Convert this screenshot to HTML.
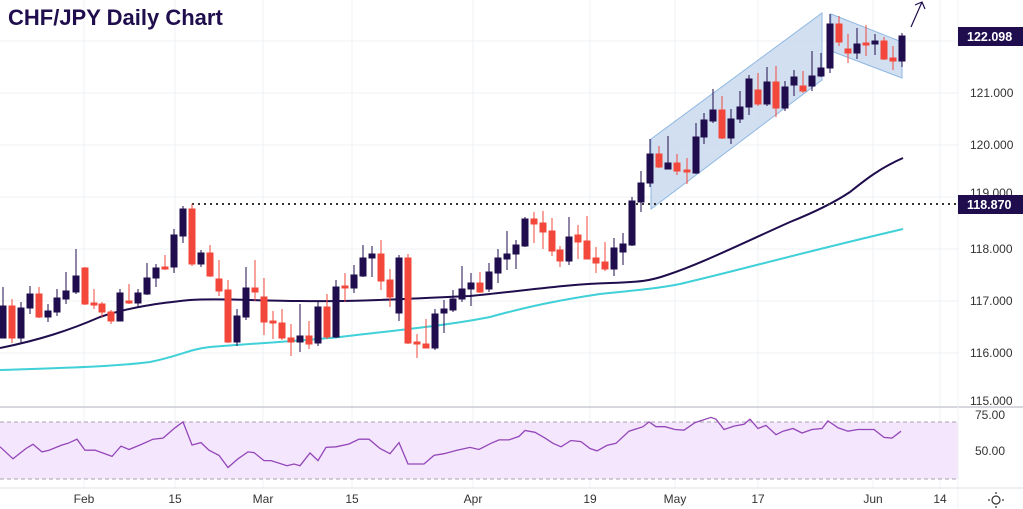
<!DOCTYPE html>
<html><head><meta charset="utf-8"><style>
html,body{margin:0;padding:0;background:#fff;}
svg{display:block;}
text{font-family:"Liberation Sans",sans-serif;}
</style></head><body>
<svg width="1023" height="509" viewBox="0 0 1023 509" xmlns="http://www.w3.org/2000/svg">
<rect width="1023" height="509" fill="#fff"/>
<g stroke="#eef0f5" stroke-width="1">
<line x1="84" y1="0" x2="84" y2="488"/><line x1="175" y1="0" x2="175" y2="488"/><line x1="263" y1="0" x2="263" y2="488"/><line x1="352" y1="0" x2="352" y2="488"/><line x1="473" y1="0" x2="473" y2="488"/><line x1="590" y1="0" x2="590" y2="488"/><line x1="675" y1="0" x2="675" y2="488"/><line x1="758" y1="0" x2="758" y2="488"/><line x1="873" y1="0" x2="873" y2="488"/><line x1="940" y1="0" x2="940" y2="488"/>
<line x1="0" y1="41" x2="958" y2="41"/><line x1="0" y1="93" x2="958" y2="93"/><line x1="0" y1="145" x2="958" y2="145"/><line x1="0" y1="197" x2="958" y2="197"/><line x1="0" y1="249" x2="958" y2="249"/><line x1="0" y1="301" x2="958" y2="301"/><line x1="0" y1="353" x2="958" y2="353"/>
</g>
<rect x="0" y="422" width="958" height="57" fill="#f3e6fd"/>
<line x1="0" y1="422" x2="958" y2="422" stroke="#a8a0b0" stroke-dasharray="4,3"/>
<line x1="0" y1="479" x2="958" y2="479" stroke="#a8a0b0" stroke-dasharray="4,3"/>
<line x1="0" y1="407" x2="1023" y2="407" stroke="#c8cbd3" stroke-width="1.5"/>
<line x1="0" y1="488" x2="1023" y2="488" stroke="#dfe2e8"/>
<line x1="958" y1="0" x2="958" y2="509" stroke="#eef0f5"/>
<polyline fill="none" stroke="#9446b8" stroke-width="1.3" points="0,446.8 13,458.8 26,448.5 33,444.3 42,451.9 49,450.2 62,445 68,443.3 77,439.2 85,450.2 95,450.2 112,456.4 121,446.1 129,449.5 140,445 153,439.2 163,438.1 175,427.8 183,421.9 192,445 201,442.6 209,450.2 219,455.4 228,467.5 238,458.8 248,451.9 254,452.6 264,460.6 271,460.6 287,465.7 294,464 300,465.7 310,453 318,460.6 326,447.4 336,446.8 349,444 359,439.2 369,439.2 380,448.5 390,453.7 399,442.6 408,464 424,464 434,455.4 444,453.7 457,450.2 470,447.4 479,449.5 491,443.3 499,439.9 509,439.9 519,436.4 525,430.5 535,432.3 545,438.1 553,443.3 561,446.8 571,440.5 581,441.6 590,448.5 597,450.9 607,445.4 616,443.3 629,431.2 643,426.7 649,421.9 656,426.7 665,426.7 675,429.5 684,430.2 695,422.6 711,417.4 716,419.2 724,429.5 734,426.1 744,424.3 750,419.2 758,428.5 766,425.4 776,434.7 783,431.2 793,428.5 802,433 812,429.5 822,428.5 828,420.9 838,427.8 848,431.2 858,429.5 874,429.5 884,437.4 892,438.1 901,431.2"/>
<polygon points="651,139 822,13 822,80 651,209" fill="#c9d9ef" fill-opacity="0.85" stroke="#8fb8e2" stroke-width="1"/>
<polygon points="831,14 902,42 902,78 831,51" fill="#c9d9ef" fill-opacity="0.85" stroke="#8fb8e2" stroke-width="1"/>
<path fill="none" stroke="#40d0d8" stroke-width="2" d="M0,370 C60,368 110,367 150,362 C180,356 190,349 210,347 C260,343 300,341 340,337 C400,330 450,325 490,317 C530,306 560,300 600,294 C640,290 660,288 680,284 C740,270 800,253 903,229"/>
<path fill="none" stroke="#1f0d4d" stroke-width="2" d="M0,348 C40,340 70,330 100,317 C130,307 160,303 190,300 C220,298 260,301 300,301 C360,302 420,298 470,296 C530,290 570,284 610,283 C640,282 650,281 667,275 C700,264 730,249 790,222 C815,212 835,202 850,192 C865,180 880,168 903,158"/>
<line x1="192" y1="204" x2="958" y2="204" stroke="#333" stroke-width="2" stroke-dasharray="2,4"/>
<g stroke-width="1">
<g stroke="#1f0d4d" fill="#1f0d4d">
<line x1="3" y1="287" x2="3" y2="338"/><rect x="0" y="306" width="6" height="32"/>
<line x1="21" y1="302" x2="21" y2="344"/><rect x="18" y="308" width="6" height="30"/>
<line x1="30" y1="286" x2="30" y2="314"/><rect x="27" y="294" width="6" height="14"/>
<line x1="48" y1="304" x2="48" y2="322"/><rect x="45" y="311" width="6" height="6"/>
<line x1="57" y1="289" x2="57" y2="316"/><rect x="54" y="298" width="6" height="14"/>
<line x1="66" y1="272" x2="66" y2="304"/><rect x="63" y="291" width="6" height="8"/>
<line x1="76" y1="249" x2="76" y2="294"/><rect x="73" y="276" width="6" height="16"/>
<line x1="120" y1="289" x2="120" y2="321"/><rect x="117" y="293" width="6" height="28"/>
<line x1="138" y1="289" x2="138" y2="307"/><rect x="135" y="293" width="6" height="10"/>
<line x1="147" y1="263" x2="147" y2="295"/><rect x="144" y="278" width="6" height="16"/>
<line x1="156" y1="264" x2="156" y2="287"/><rect x="153" y="268" width="6" height="10"/>
<line x1="174" y1="229" x2="174" y2="273"/><rect x="171" y="235" width="6" height="32"/>
<line x1="183" y1="206" x2="183" y2="243"/><rect x="180" y="209" width="6" height="27"/>
<line x1="201" y1="250" x2="201" y2="267"/><rect x="198" y="253" width="6" height="11"/>
<line x1="237" y1="309" x2="237" y2="346"/><rect x="234" y="316" width="6" height="26"/>
<line x1="246" y1="267" x2="246" y2="320"/><rect x="243" y="288" width="6" height="29"/>
<line x1="300" y1="304" x2="300" y2="352"/><rect x="297" y="336" width="6" height="6"/>
<line x1="318" y1="301" x2="318" y2="346"/><rect x="315" y="307" width="6" height="36"/>
<line x1="336" y1="280" x2="336" y2="338"/><rect x="333" y="287" width="6" height="50"/>
<line x1="354" y1="265" x2="354" y2="293"/><rect x="351" y="275" width="6" height="13"/>
<line x1="363" y1="245" x2="363" y2="277"/><rect x="360" y="258" width="6" height="18"/>
<line x1="372" y1="246" x2="372" y2="277"/><rect x="369" y="254" width="6" height="4"/>
<line x1="399" y1="255" x2="399" y2="321"/><rect x="396" y="258" width="6" height="55"/>
<line x1="435" y1="309" x2="435" y2="350"/><rect x="432" y="314" width="6" height="34"/>
<line x1="444" y1="300" x2="444" y2="333"/><rect x="441" y="309" width="6" height="4"/>
<line x1="453" y1="290" x2="453" y2="312"/><rect x="450" y="299" width="6" height="11"/>
<line x1="462" y1="266" x2="462" y2="302"/><rect x="459" y="289" width="6" height="10"/>
<line x1="471" y1="273" x2="471" y2="306"/><rect x="468" y="283" width="6" height="6"/>
<line x1="489" y1="263" x2="489" y2="292"/><rect x="486" y="272" width="6" height="17"/>
<line x1="498" y1="249" x2="498" y2="283"/><rect x="495" y="258" width="6" height="15"/>
<line x1="507" y1="231" x2="507" y2="270"/><rect x="504" y="254" width="6" height="5"/>
<line x1="516" y1="240" x2="516" y2="269"/><rect x="513" y="245" width="6" height="9"/>
<line x1="525" y1="217" x2="525" y2="247"/><rect x="522" y="219" width="6" height="27"/>
<line x1="569" y1="217" x2="569" y2="265"/><rect x="566" y="237" width="6" height="24"/>
<line x1="614" y1="238" x2="614" y2="276"/><rect x="611" y="248" width="6" height="21"/>
<line x1="623" y1="233" x2="623" y2="265"/><rect x="620" y="244" width="6" height="8"/>
<line x1="632" y1="197" x2="632" y2="246"/><rect x="629" y="201" width="6" height="44"/>
<line x1="641" y1="171" x2="641" y2="212"/><rect x="638" y="183" width="6" height="19"/>
<line x1="650" y1="139" x2="650" y2="187"/><rect x="647" y="154" width="6" height="29"/>
<line x1="668" y1="136" x2="668" y2="169"/><rect x="665" y="163" width="6" height="6"/>
<line x1="696" y1="123" x2="696" y2="174"/><rect x="693" y="137" width="6" height="36"/>
<line x1="704" y1="113" x2="704" y2="144"/><rect x="701" y="120" width="6" height="17"/>
<line x1="713" y1="89" x2="713" y2="123"/><rect x="710" y="110" width="6" height="11"/>
<line x1="731" y1="109" x2="731" y2="144"/><rect x="728" y="119" width="6" height="19"/>
<line x1="740" y1="91" x2="740" y2="123"/><rect x="737" y="107" width="6" height="12"/>
<line x1="749" y1="75" x2="749" y2="115"/><rect x="746" y="79" width="6" height="28"/>
<line x1="767" y1="67" x2="767" y2="106"/><rect x="764" y="82" width="6" height="22"/>
<line x1="785" y1="81" x2="785" y2="111"/><rect x="782" y="87" width="6" height="21"/>
<line x1="794" y1="70" x2="794" y2="96"/><rect x="791" y="77" width="6" height="8"/>
<line x1="812" y1="51" x2="812" y2="91"/><rect x="809" y="76" width="6" height="10"/>
<line x1="821" y1="53" x2="821" y2="77"/><rect x="818" y="68" width="6" height="8"/>
<line x1="830" y1="14" x2="830" y2="73"/><rect x="827" y="24" width="6" height="44"/>
<line x1="857" y1="28" x2="857" y2="59"/><rect x="854" y="44" width="6" height="9"/>
<line x1="875" y1="34" x2="875" y2="55"/><rect x="872" y="41" width="6" height="3"/>
<line x1="902" y1="33" x2="902" y2="67"/><rect x="899" y="36" width="6" height="25"/>
</g>
<g stroke="#f2473a" fill="#f2473a">
<line x1="12" y1="299" x2="12" y2="343"/><rect x="9" y="306" width="6" height="32"/>
<line x1="39" y1="287" x2="39" y2="318"/><rect x="36" y="294" width="6" height="23"/>
<line x1="85" y1="267" x2="85" y2="305"/><rect x="82" y="268" width="6" height="36"/>
<line x1="94" y1="289" x2="94" y2="309"/><rect x="91" y="303" width="6" height="2"/>
<line x1="102" y1="302" x2="102" y2="317"/><rect x="99" y="304" width="6" height="8"/>
<line x1="111" y1="310" x2="111" y2="324"/><rect x="108" y="312" width="6" height="9"/>
<line x1="129" y1="284" x2="129" y2="304"/><rect x="126" y="301" width="6" height="2"/>
<line x1="165" y1="255" x2="165" y2="270"/><rect x="162" y="267" width="6" height="2"/>
<line x1="192" y1="204" x2="192" y2="266"/><rect x="189" y="209" width="6" height="55"/>
<line x1="210" y1="245" x2="210" y2="277"/><rect x="207" y="253" width="6" height="23"/>
<line x1="219" y1="260" x2="219" y2="296"/><rect x="216" y="279" width="6" height="12"/>
<line x1="228" y1="280" x2="228" y2="343"/><rect x="225" y="290" width="6" height="52"/>
<line x1="255" y1="260" x2="255" y2="301"/><rect x="252" y="288" width="6" height="4"/>
<line x1="264" y1="278" x2="264" y2="335"/><rect x="261" y="297" width="6" height="25"/>
<line x1="273" y1="311" x2="273" y2="339"/><rect x="270" y="321" width="6" height="2"/>
<line x1="282" y1="309" x2="282" y2="340"/><rect x="279" y="323" width="6" height="15"/>
<line x1="291" y1="324" x2="291" y2="356"/><rect x="288" y="338" width="6" height="4"/>
<line x1="309" y1="321" x2="309" y2="349"/><rect x="306" y="336" width="6" height="8"/>
<line x1="327" y1="294" x2="327" y2="339"/><rect x="324" y="307" width="6" height="30"/>
<line x1="345" y1="273" x2="345" y2="302"/><rect x="342" y="286" width="6" height="2"/>
<line x1="381" y1="240" x2="381" y2="290"/><rect x="378" y="254" width="6" height="27"/>
<line x1="390" y1="269" x2="390" y2="307"/><rect x="387" y="280" width="6" height="17"/>
<line x1="408" y1="254" x2="408" y2="344"/><rect x="405" y="258" width="6" height="85"/>
<line x1="417" y1="334" x2="417" y2="358"/><rect x="414" y="342" width="6" height="2"/>
<line x1="426" y1="319" x2="426" y2="348"/><rect x="423" y="344" width="6" height="4"/>
<line x1="480" y1="272" x2="480" y2="293"/><rect x="477" y="283" width="6" height="9"/>
<line x1="534" y1="212" x2="534" y2="243"/><rect x="531" y="219" width="6" height="5"/>
<line x1="543" y1="211" x2="543" y2="249"/><rect x="540" y="223" width="6" height="9"/>
<line x1="552" y1="218" x2="552" y2="256"/><rect x="549" y="231" width="6" height="20"/>
<line x1="560" y1="246" x2="560" y2="267"/><rect x="557" y="250" width="6" height="11"/>
<line x1="578" y1="225" x2="578" y2="259"/><rect x="575" y="235" width="6" height="7"/>
<line x1="587" y1="216" x2="587" y2="259"/><rect x="584" y="241" width="6" height="18"/>
<line x1="596" y1="247" x2="596" y2="273"/><rect x="593" y="258" width="6" height="5"/>
<line x1="605" y1="242" x2="605" y2="271"/><rect x="602" y="262" width="6" height="7"/>
<line x1="659" y1="146" x2="659" y2="168"/><rect x="656" y="154" width="6" height="13"/>
<line x1="677" y1="154" x2="677" y2="175"/><rect x="674" y="163" width="6" height="8"/>
<line x1="687" y1="158" x2="687" y2="184"/><rect x="684" y="170" width="6" height="2"/>
<line x1="722" y1="96" x2="722" y2="139"/><rect x="719" y="110" width="6" height="28"/>
<line x1="758" y1="73" x2="758" y2="106"/><rect x="755" y="90" width="6" height="14"/>
<line x1="776" y1="66" x2="776" y2="117"/><rect x="773" y="82" width="6" height="26"/>
<line x1="803" y1="71" x2="803" y2="93"/><rect x="800" y="86" width="6" height="5"/>
<line x1="839" y1="16" x2="839" y2="46"/><rect x="836" y="24" width="6" height="18"/>
<line x1="848" y1="34" x2="848" y2="63"/><rect x="845" y="49" width="6" height="4"/>
<line x1="866" y1="25" x2="866" y2="56"/><rect x="863" y="43" width="6" height="2"/>
<line x1="884" y1="37" x2="884" y2="60"/><rect x="881" y="41" width="6" height="18"/>
<line x1="893" y1="46" x2="893" y2="70"/><rect x="890" y="58" width="6" height="3"/>
</g>
</g>
<g stroke="#1f0d4d" stroke-width="1.2" fill="none">
<line x1="911" y1="27" x2="922" y2="2"/>
<polyline points="915,5 922,2 925,9"/>
</g>
<text x="8" y="25" font-size="22" font-weight="bold" fill="#1f0d4d">CHF/JPY Daily Chart</text>
<g font-size="12" fill="#333">
<text x="970" y="97">121.000</text>
<text x="970" y="149">120.000</text>
<text x="970" y="197">119.000</text>
<text x="970" y="253">118.000</text>
<text x="970" y="305">117.000</text>
<text x="970" y="357">116.000</text>
<text x="970" y="405">115.000</text>
<text x="975" y="419">75.00</text>
<text x="975" y="455">50.00</text>
</g>
<rect x="958" y="27" width="65" height="19" fill="#1f0d4d"/>
<text x="967" y="41" font-size="12.5" font-weight="bold" fill="#fff">122.098</text>
<rect x="958" y="195" width="65" height="19" fill="#1f0d4d"/>
<text x="967" y="209" font-size="12.5" font-weight="bold" fill="#fff">118.870</text>
<g font-size="12" fill="#333" text-anchor="middle">
<text x="84" y="503">Feb</text><text x="175" y="503">15</text><text x="263" y="503">Mar</text><text x="352" y="503">15</text><text x="473" y="503">Apr</text><text x="590" y="503">19</text><text x="675" y="503">May</text><text x="758" y="503">17</text><text x="873" y="503">Jun</text><text x="940" y="503">14</text>
</g>
<g stroke="#333" stroke-width="1.2" fill="none">
<circle cx="996" cy="500" r="4"/>
<line x1="996" y1="492" x2="996" y2="494"/><line x1="996" y1="506" x2="996" y2="508"/>
<line x1="988" y1="500" x2="990" y2="500"/><line x1="1002" y1="500" x2="1004" y2="500"/>
</g>
</svg>
</body></html>
